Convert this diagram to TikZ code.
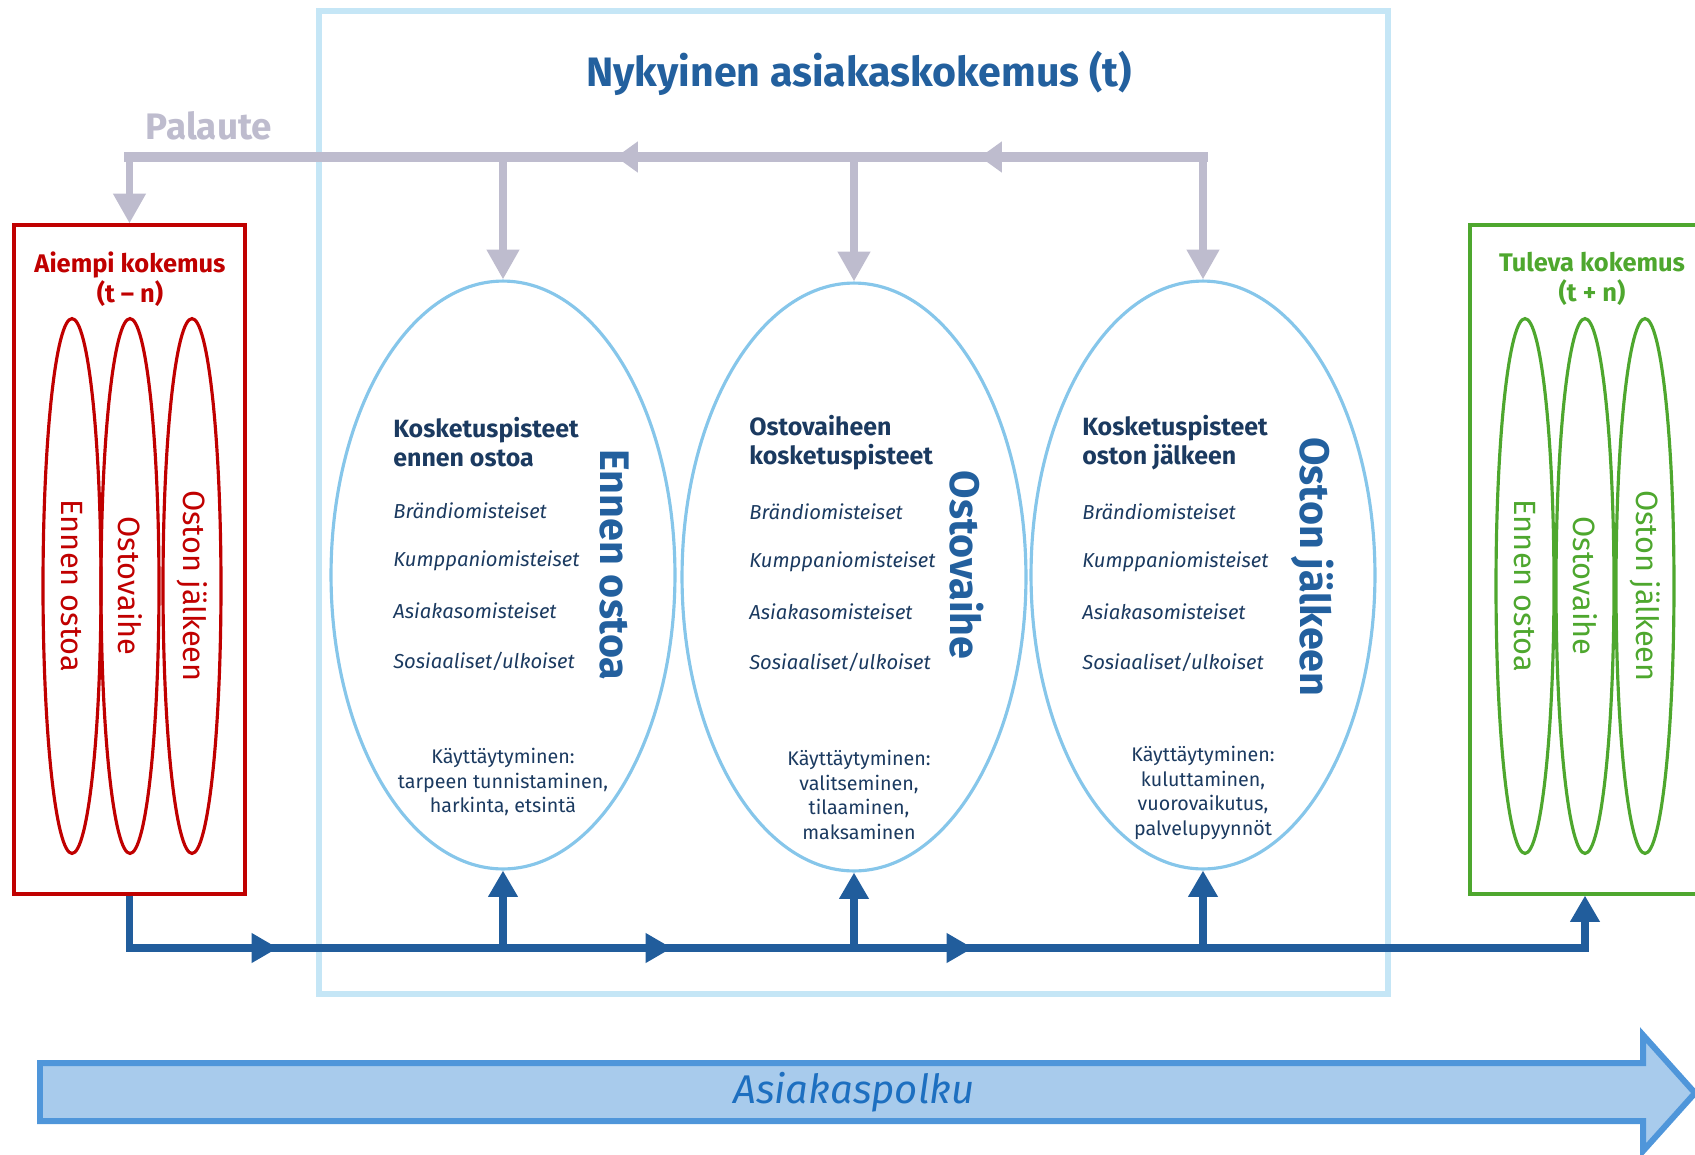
\documentclass[tikz,border=0pt]{standalone}
\usepackage{fontspec}
\setmainfont{Fira Sans}
\usetikzlibrary{shapes.geometric, arrows.meta}
\definecolor{boxline}{HTML}{C5E6F6}
\definecolor{skyline}{HTML}{86C6EA}
\definecolor{fbgrey}{HTML}{BEBCCE}
\definecolor{flowblue}{HTML}{215D9C}
\definecolor{pastred}{HTML}{C00000}
\definecolor{futgreen}{HTML}{4EA72E}
\definecolor{navy}{HTML}{1B3A60}
\definecolor{deepblue}{HTML}{23609E}
\definecolor{pathfill}{HTML}{A8CBEC}
\definecolor{pathline}{HTML}{4F96DA}
\definecolor{pathtext}{HTML}{1D6FC0}
\begin{document}
\begin{tikzpicture}[x=0.02cm, y=-0.02cm,
    phase/.style = {draw=skyline, line width=1.8pt, ellipse, inner sep=0pt, minimum width=6.88cm, minimum height=11.76cm},
    mini/.style = {draw, ellipse, line width=1.8pt, inner sep=0pt, minimum width=1.16cm, minimum height=10.7cm},
    frame/.style = {draw, rectangle, line width=1.8pt, inner sep=0pt, minimum width=4.62cm, minimum height=13.38cm},
    minilabel/.style = {rotate=-90, font=\fontsize{17.5}{17.5}\selectfont},
    framehead/.style = {align=center, font=\fontsize{14.5}{17}\selectfont\bfseries},
    head/.style = {anchor=west, align=left, inner sep=0pt, text=navy, font=\fontsize{14.2}{16.5}\selectfont\bfseries},
    item/.style = {anchor=west, inner sep=0pt, text=navy, font=\fontsize{11.5}{12}\selectfont\itshape},
    side/.style = {rotate=-90, text=deepblue, font=\fontsize{23.5}{24}\selectfont\bfseries},
    act/.style = {align=center, text=navy, font=\fontsize{11.2}{14}\selectfont},
    fbh/.style = {draw=fbgrey, line width=6pt, line cap=rect},
    fbv/.style = {draw=fbgrey, line width=4.5pt, -{Triangle[length=17pt, width=17.6pt]}},
    fbtip/.style = {draw=fbgrey, line width=6pt, -{Triangle[length=12.5pt, width=17pt]}},
    flowline/.style = {draw=flowblue, line width=4.5pt},
    flow/.style = {flowline, -{Triangle[length=15pt, width=16pt]}}]
    \useasboundingbox (0,0) rectangle (1695,1154);
    \clip (0,0) rectangle (1695,1154);

    % current experience
    \node[frame, draw=boxline, line width=3.2pt, minimum width=21.38cm, minimum height=19.66cm] (now) at (853.5,502.5) {};
    \node[text=deepblue, font=\fontsize{23.4}{23.4}\selectfont\bfseries] (title) at (859,73) {Nykyinen asiakaskokemus (t)};
    \node[text=fbgrey, font=\fontsize{21}{21}\selectfont\bfseries] (fb) at (209,126) {Palaute};

    \node[phase] (e1) at (503,575) {};
    \node[phase] (e2) at (854,577) {};
    \node[phase] (e3) at (1203,575) {};

    \node[head] (h1) at (393,442) {Kosketuspisteet\\ennen ostoa};
    \node[item] at (393,511) {Brändiomisteiset};
    \node[item] at (393,561) {Kumppaniomisteiset};
    \node[item] at (393,611) {Asiakasomisteiset};
    \node[item] at (393,661) {Sosiaaliset/ulkoiset};
    \node[side] (s1) at (614,565) {Ennen ostoa};
    \node[act] (a1) at (503,782) {Käyttäytyminen:\\tarpeen tunnistaminen,\\harkinta, etsintä};

    \node[head] (h2) at (749,443) {Ostovaiheen\\kosketuspisteet};
    \node[item] at (749,512) {Brändiomisteiset};
    \node[item] at (749,562) {Kumppaniomisteiset};
    \node[item] at (749,612) {Asiakasomisteiset};
    \node[item] at (749,662) {Sosiaaliset/ulkoiset};
    \node[side] (s2) at (967,565) {Ostovaihe};
    \node[act] (a2) at (859,795) {Käyttäytyminen:\\valitseminen,\\tilaaminen,\\maksaminen};

    \node[head] (h3) at (1082,443) {Kosketuspisteet\\oston jälkeen};
    \node[item] at (1082,512) {Brändiomisteiset};
    \node[item] at (1082,562) {Kumppaniomisteiset};
    \node[item] at (1082,612) {Asiakasomisteiset};
    \node[item] at (1082,662) {Sosiaaliset/ulkoiset};
    \node[side] (s3) at (1313,567) {Oston jälkeen};
    \node[act] (a3) at (1203,793) {Käyttäytyminen:\\kuluttaminen,\\vuorovaikutus,\\palvelupyynnöt};

    % previous experience
    \node[frame, draw=pastred] (prev) at (129.5,559.5) {};
    \node[framehead, text=pastred] at (130,279) {Aiempi kokemus\\(t – n)};
    \node[mini, draw=pastred] (r1) at (72,586) {};
    \node[mini, draw=pastred] (r2) at (130,586) {};
    \node[mini, draw=pastred] (r3) at (192,586) {};
    \node[minilabel, text=pastred] at (r1) {Ennen ostoa};
    \node[minilabel, text=pastred] at (r2) {Ostovaihe};
    \node[minilabel, text=pastred] at (r3) {Oston jälkeen};

    % future experience
    \node[frame, draw=futgreen, minimum width=4.8cm] (next) at (1590,559.5) {};
    \node[framehead, text=futgreen] at (1592,279) {Tuleva kokemus\\(t + n)};
    \node[mini, draw=futgreen] (g1) at (1525,586) {};
    \node[mini, draw=futgreen] (g2) at (1585,586) {};
    \node[mini, draw=futgreen] (g3) at (1645,586) {};
    \node[minilabel, text=futgreen] at (g1) {Ennen ostoa};
    \node[minilabel, text=futgreen] at (g2) {Ostovaihe};
    \node[minilabel, text=futgreen] at (g3) {Oston jälkeen};

    % feedback
    \coordinate (fbtop) at (0,157);
    \coordinate (f1) at (616,157);
    \coordinate (f2) at (980,157);
    \draw[fbh] (e3.north |- fbtop) -- (prev.north |- fbtop);
    \draw[fbtip] (e3.north |- fbtop) -- (f2);
    \draw[fbtip] (f2) -- (f1);
    \draw[fbv] (prev.north |- fbtop) -- (prev.north);
    \draw[fbv] (e1.north |- fbtop) -- (e1.north);
    \draw[fbv] (e2.north |- fbtop) -- (e2.north);
    \draw[fbv] (e3.north |- fbtop) -- (e3.north);

    % customer flow
    \coordinate (b1) at (278,948);
    \coordinate (b2) at (672,948);
    \coordinate (b3) at (973,948);
    \draw[flowline] (prev.south) |- (b3);
    \draw[flow] (prev.south) |- (b1);
    \draw[flow] (b1) -- (b2);
    \draw[flow] (b2) -- (b3);
    \draw[flow] (b3) -| (g2 |- next.south);
    \draw[flow] (e1.south |- b1) -- (e1.south);
    \draw[flow] (e2.south |- b1) -- (e2.south);
    \draw[flow] (e3.south |- b1) -- (e3.south);

    % customer journey
    \draw[fill=pathfill, draw=pathline, line width=3.4pt] (40,1063) -- (1643,1063) -- (1643,1035) -- (1695,1093) -- (1643,1151) -- (1643,1121) -- (40,1121) -- cycle;
    \node[text=pathtext, font=\fontsize{22.8}{22.8}\selectfont\itshape] (journey) at (854,1092) {Asiakaspolku};
\end{tikzpicture}
\end{document}
